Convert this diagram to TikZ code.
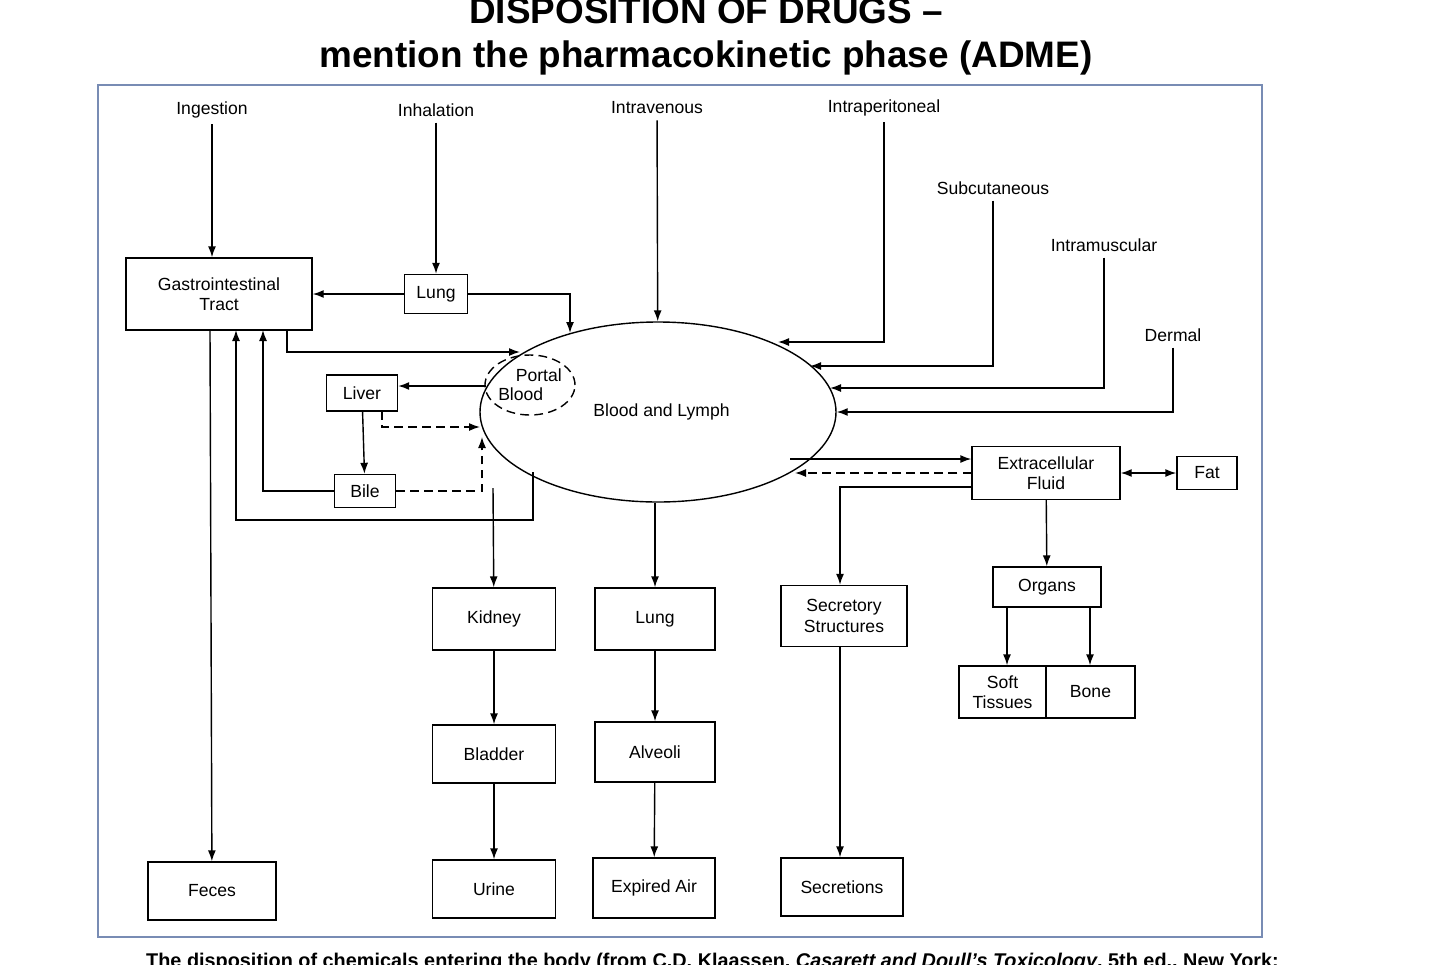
\documentclass[tikz,border=0pt]{standalone}
\usepackage{fontspec}
\setmainfont{Liberation Sans}
\usetikzlibrary{arrows.meta,positioning,calc,shapes.geometric}
\definecolor{framegray}{RGB}{120,140,180}

\begin{document}
\begin{tikzpicture}[
    x=0.02cm, y=-0.02cm,
    box/.style={rectangle, draw, thick, inner sep=0pt, font=\fontsize{10}{11.5}\selectfont, align=center},
    route/.style={font=\fontsize{10}{12}\selectfont},
    arrow/.style={-{Latex[length=2.2mm,width=1.6mm]}, thick},
    dasharrow/.style={arrow, dash pattern=on 5pt off 3pt}
]
\useasboundingbox (0,0) rectangle (1440,964);

% Title and frame
\node[font=\fontsize{21}{25}\selectfont\bfseries, align=center] (title) at (706,36) {DISPOSITION OF DRUGS --\\mention the pharmacokinetic phase (ADME)};
\draw[framegray, thick] (98,85) rectangle (1262,937);
\node[font=\fontsize{11.3}{12}\selectfont\bfseries, anchor=west] (caption) at (140,962) {The disposition of chemicals entering the body (from C.D. Klaassen, \textit{Casarett and Doull's Toxicology}, 5th ed., New York:};

% Routes of entry
\node[route] (ingest) at (212,110) {Ingestion};
\node[route] (inhal) at (436,110) {Inhalation};
\node[route] (iv) at (657,108) {Intravenous};
\node[route] (ip) at (884,108) {Intraperitoneal};
\node[route] (subcut) at (993,188) {Subcutaneous};
\node[route] (im) at (1104,245) {Intramuscular};
\node[route] (derm) at (1173,335) {Dermal};

% Central compartment
\node[draw, thick, ellipse, minimum width=356*0.02cm, minimum height=180*0.02cm, inner sep=0pt, font=\fontsize{10}{12}\selectfont] (blood) at (658,412) {\hspace*{4pt}Blood and Lymph};
\node[draw, thick, ellipse, dash pattern=on 5pt off 3pt, minimum width=90*0.02cm, minimum height=60*0.02cm, inner sep=0pt, font=\fontsize{10}{11}\selectfont, align=left] (portal) at (530,385) {\hspace*{1em}Portal\\Blood};

% Boxes
\node[box, minimum width=186*0.02cm, minimum height=72*0.02cm] (gi) at (219,294) {Gastrointestinal\\Tract};
\node[box, minimum width=63*0.02cm, minimum height=39*0.02cm] (lungin) at (436,294) {Lung};
\node[box, minimum width=71*0.02cm, minimum height=36*0.02cm] (liver) at (362,393) {Liver};
\node[box, minimum width=61*0.02cm, minimum height=33*0.02cm] (bile) at (365,491) {Bile};
\node[box, minimum width=128*0.02cm, minimum height=58*0.02cm] (feces) at (212,891) {Feces};
\node[box, minimum width=123*0.02cm, minimum height=62*0.02cm] (kidney) at (494,619) {Kidney};
\node[box, minimum width=123*0.02cm, minimum height=58*0.02cm] (bladder) at (494,754) {Bladder};
\node[box, minimum width=123*0.02cm, minimum height=58*0.02cm] (urine) at (494,889) {Urine};
\node[box, minimum width=120*0.02cm, minimum height=62*0.02cm] (lungout) at (655,619) {Lung};
\node[box, minimum width=120*0.02cm, minimum height=60*0.02cm] (alveoli) at (655,752) {Alveoli};
\node[box, minimum width=122*0.02cm, minimum height=60*0.02cm] (expired) at (654,888) {Expired Air};
\node[box, minimum width=126*0.02cm, minimum height=61*0.02cm] (secstruct) at (844,616) {Secretory\\Structures};
\node[box, minimum width=122*0.02cm, minimum height=58*0.02cm] (secret) at (842,887) {Secretions};
\node[box, minimum width=148*0.02cm, minimum height=53*0.02cm] (ecf) at (1046,473) {Extracellular\\Fluid};
\node[box, minimum width=60*0.02cm, minimum height=33*0.02cm] (fat) at (1207,473) {Fat};
\node[box, minimum width=108*0.02cm, minimum height=40*0.02cm] (organs) at (1047,587) {Organs};
\node[box, minimum width=87*0.02cm, minimum height=52*0.02cm] (soft) at (1002.5,692) {Soft\\Tissues};
\node[box, minimum width=89*0.02cm, minimum height=52*0.02cm] (bone) at (1090.5,692) {Bone};

% Entry connectors
\draw[arrow] (ingest) -- (gi.north -| ingest);
\draw[arrow] (inhal) -- (lungin);
\draw[arrow] (iv) -- (blood);
\draw[arrow] (ip) |- (778,342);
\draw[arrow] (subcut) |- (810,366);
\draw[arrow] (im) |- (830,388);
\draw[arrow] (derm) |- (blood.east);
\draw[arrow] (lungin) -- (gi.east |- lungin);
\draw[arrow] (lungin.east) -| (570,333);

% Gut, liver and bile
\draw[arrow] (287,330) |- (520,352);
\draw[arrow] (486,386) -- (liver.east |- 0,386);
\draw[arrow] (liver) -- (bile);
\draw[dasharrow] (382,411) |- (480,427);
\draw[dasharrow] (bile.east) -| (482,437);
\draw[arrow] (bile.west) -| (263,330);
\draw[arrow] (533,472) |- (236,520) -- (236,330);
\draw[arrow] (210,330) -- (feces);

% Excretion
\draw[arrow] (493,488) -- (kidney);
\draw[arrow] (kidney) -- (bladder);
\draw[arrow] (bladder) -- (urine);
\draw[arrow] (blood.south -| lungout) -- (lungout);
\draw[arrow] (lungout) -- (alveoli);
\draw[arrow] (alveoli) -- (expired);

% Distribution
\draw[arrow] (790,459) -- (ecf.west |- 0,459);
\draw[dasharrow] (ecf.west) -- (795,473);
\draw[arrow] (ecf.west |- 0,487) -| (secstruct.north -| 840,0);
\draw[arrow] (secstruct.south -| 840,0) -- (secret.north -| 840,0);
\draw[{Latex[length=2.2mm,width=1.6mm]}-{Latex[length=2.2mm,width=1.6mm]}, thick] (ecf.east) -- (fat.west);
\draw[arrow] (ecf) -- (organs);
\draw[arrow] (organs.south -| 1007,0) -- (soft.north -| 1007,0);
\draw[arrow] (organs.south -| 1090,0) -- (bone.north -| 1090,0);
\end{tikzpicture}
\end{document}
